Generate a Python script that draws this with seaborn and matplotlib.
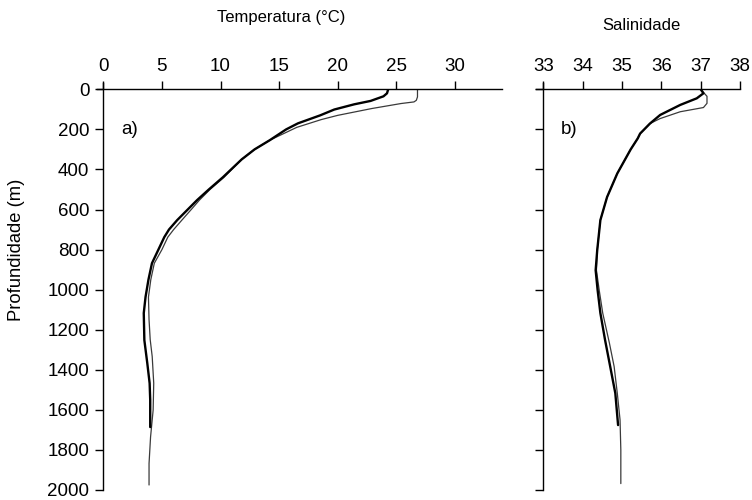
import numpy as np
import pandas as pd
import matplotlib
matplotlib.use("Agg")
import matplotlib.pyplot as plt
import seaborn as sns

# ---- data ----
# Cast A (thick line)
depth_temp_a = [0, 20, 35, 58, 75, 101, 130, 170, 200, 254, 300, 350, 439, 500, 553, 600, 653,
                700, 738, 800, 868, 950, 1037, 1117, 1252, 1367, 1467, 1551, 1686]
temp_a = [24.3, 24.2, 23.9, 22.8, 21.4, 19.7, 18.5, 16.6, 15.6, 14.2, 12.9, 11.8, 10.2, 9.0, 8.0,
          7.2, 6.3, 5.6, 5.2, 4.7, 4.15, 3.85, 3.6, 3.45, 3.5, 3.75, 3.95, 4.0, 4.0]
# Cast B (thin line)
depth_temp_b = [0, 38, 55, 63, 71, 96, 130, 151, 190, 254, 300, 350, 439, 500, 553, 600, 653,
                700, 738, 800, 868, 950, 1037, 1150, 1250, 1334, 1467, 1601, 1735, 1868, 1975]
temp_b = [26.8, 26.8, 26.7, 26.5, 25.4, 22.9, 20.0, 18.6, 16.5, 14.2, 12.9, 11.8, 10.3, 9.1, 8.2,
          7.5, 6.7, 6.0, 5.5, 5.0, 4.35, 4.05, 3.85, 3.9, 4.0, 4.17, 4.3, 4.25, 4.03, 3.9, 3.9]

depth_sal_a = [0, 20, 45, 78, 128, 171, 221, 245, 300, 420, 538, 653, 803, 903, 1002, 1117,
               1252, 1384, 1517, 1676]
sal_a = [37.0, 37.07, 36.9, 36.48, 35.97, 35.71, 35.46, 35.4, 35.22, 34.88, 34.62, 34.45,
         34.37, 34.33, 34.38, 34.45, 34.57, 34.7, 34.83, 34.9]
depth_sal_b = [0, 35, 70, 91, 112, 146, 171, 221, 245, 300, 420, 538, 653, 803, 903, 1002,
               1117, 1267, 1384, 1517, 1650, 1800, 1968]
sal_b = [37.0, 37.16, 37.16, 37.07, 36.48, 35.97, 35.71, 35.46, 35.4, 35.22, 34.88, 34.62,
         34.45, 34.37, 34.35, 34.42, 34.51, 34.68, 34.8, 34.88, 34.95, 34.97, 34.97]

temp_ticks = [0, 5, 10, 15, 20, 25, 30]
sal_ticks = [33, 34, 35, 36, 37, 38]
depth_ticks = [0, 200, 400, 600, 800, 1000, 1200, 1400, 1600, 1800, 2000]

sns.set_style("white")
plt.rcParams['font.family'] = ['Liberation Sans', 'DejaVu Sans']
plt.rcParams['text.color'] = 'black'
plt.rcParams['xtick.color'] = 'black'
plt.rcParams['ytick.color'] = 'black'
plt.rcParams['axes.labelcolor'] = 'black'

fig = plt.figure(figsize=(7.52, 5.00), dpi=100)
ax1 = fig.add_axes([0.1374, 0.02, 0.530, 0.8014])
ax2 = fig.add_axes([0.7225, 0.02, 0.2616, 0.8014])

tick_fs = 13.5
lab_fs = 12

def draw(ax, xa, da, xb, db):
    sns.lineplot(x=xb, y=db, orient='y', sort=False, ax=ax, color='#3a3a3a', lw=0.9)
    sns.lineplot(x=xa, y=da, orient='y', sort=False, ax=ax, color='black', lw=1.7)

draw(ax1, temp_a, depth_temp_a, temp_b, depth_temp_b)
draw(ax2, sal_a, depth_sal_a, sal_b, depth_sal_b)

for ax, xl, xt in [(ax1, (0, 34.0), temp_ticks), (ax2, (33, 38), sal_ticks)]:
    ax.set_xlim(*xl)
    ax.set_ylim(2000, 0)
    ax.set_xticks(xt)
    ax.set_yticks(depth_ticks)
    ax.xaxis.tick_top()
    ax.spines['right'].set_visible(False)
    ax.spines['bottom'].set_visible(False)
    for s in ['top', 'left']:
        ax.spines[s].set_color('black')
        ax.spines[s].set_linewidth(1.0)
    ax.tick_params(axis='both', direction='out', length=6, width=1.0, color='black',
                   labelcolor='black', labelsize=tick_fs, pad=4, top=True, left=True,
                   bottom=False, right=False)
    ax.set_xlabel('')
    ax.set_ylabel('')
    ax.grid(False)
    ax.set_facecolor('white')

# spines crossing each other slightly (as in the original)
ax1.spines['top'].set_bounds(-0.5, 34.0)
ax1.spines['left'].set_bounds(2000, -30)
ax2.spines['top'].set_bounds(33 - 0.18, 38)
ax2.spines['left'].set_bounds(2000, -30)

ax2.set_yticklabels([])

ax1.text(0.446, 1.178, 'Temperatura (°C)', transform=ax1.transAxes, ha='center', va='center',
         fontsize=lab_fs, color='black')
ax2.text(0.5, 1.16, 'Salinidade', transform=ax2.transAxes, ha='center', va='center',
         fontsize=lab_fs, color='black')
ax1.set_ylabel('Profundidade (m)', fontsize=13.2, color='black')
ax1.yaxis.set_label_coords(-0.197, 0.60)

ax1.text(0.045, 0.9, 'a)', transform=ax1.transAxes, ha='left', va='center', fontsize=tick_fs)
ax2.text(0.09, 0.9, 'b)', transform=ax2.transAxes, ha='left', va='center', fontsize=tick_fs)

fig.savefig('out.png', dpi=100, facecolor='white')
